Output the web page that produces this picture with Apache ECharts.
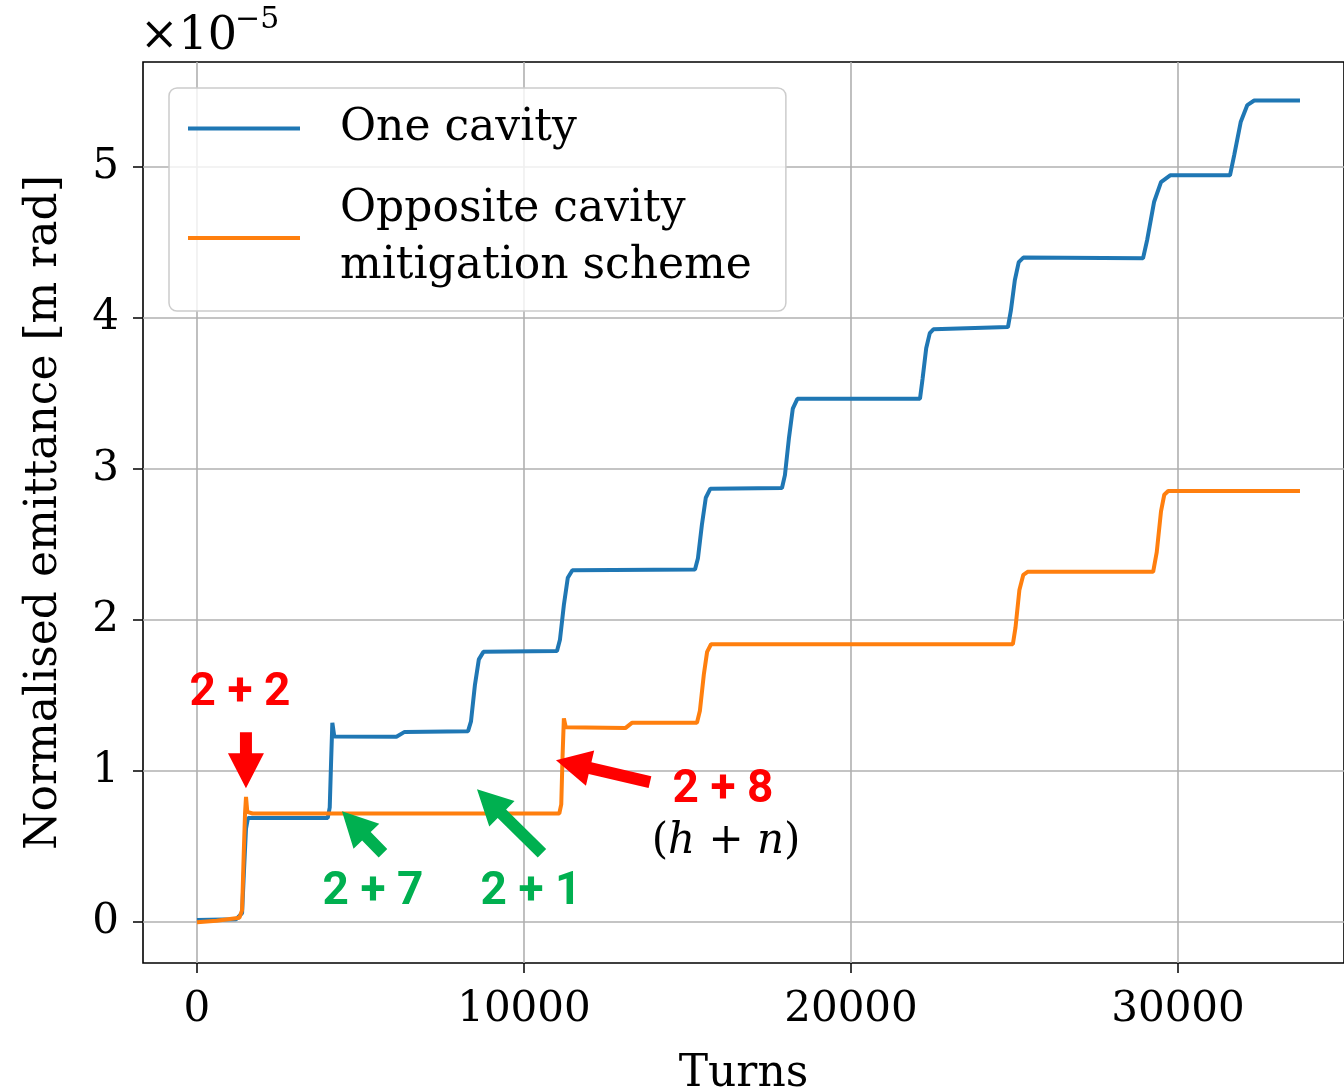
<!DOCTYPE html>
<html>
<head>
<meta charset="utf-8">
<script src="https://cdn.jsdelivr.net/npm/echarts@6/dist/echarts.min.js"></script>
<style>
  html, body { margin: 0; padding: 0; background: #ffffff; }
  #chart { width: 1344px; height: 1092px; }
</style>
</head>
<body>
<div id="chart"></div>
<script>
// Axis ticks
const xTicks = [0, 10000, 20000, 30000];
const yTicks = [0, 1, 2, 3, 4, 5];

// Normalised emittance (units of 1e-5 m rad) versus turn number
const oneCavityTurns = [
  0, 1200, 1380, 1440, 1500, 1560, 4000, 4060, 4100, 4140, 4200, 6100, 6350,
  8290, 8380, 8500, 8620, 8760, 11010, 11100, 11220, 11340, 11480,
  15230, 15320, 15440, 15560, 15700, 17890, 17980, 18100, 18220, 18360,
  22110, 22190, 22300, 22410, 22520, 24800, 24890, 25010, 25130, 25270,
  28930, 29060, 29270, 29480, 29760, 31590, 31720, 31920, 32120, 32330, 33730
];
const oneCavityEmittance = [
  0.015, 0.02, 0.06, 0.35, 0.62, 0.69, 0.69, 0.76, 1.05, 1.32, 1.23, 1.228, 1.26,
  1.265, 1.33, 1.57, 1.74, 1.79, 1.795, 1.87, 2.1, 2.28, 2.33,
  2.335, 2.41, 2.63, 2.81, 2.87, 2.875, 2.96, 3.2, 3.4, 3.465,
  3.465, 3.6, 3.8, 3.9, 3.925, 3.94, 4.05, 4.25, 4.37, 4.4,
  4.395, 4.52, 4.77, 4.9, 4.945, 4.945, 5.08, 5.3, 5.41, 5.44, 5.44
];
const oppositeTurns = [
  0, 600, 1300, 1380, 1430, 1470, 1500, 1540, 1700, 11080, 11140, 11180, 11220, 11280,
  13100, 13300, 15290, 15380, 15500, 15600, 15720, 24950, 25030, 25150, 25270, 25400,
  29240, 29350, 29480, 29580, 29700, 33730
];
const oppositeEmittance = [
  0.0, 0.01, 0.03, 0.08, 0.45, 0.72, 0.83, 0.73, 0.72, 0.72, 0.78, 1.1, 1.35, 1.29,
  1.285, 1.32, 1.32, 1.4, 1.64, 1.79, 1.84, 1.84, 1.95, 2.2, 2.3, 2.32,
  2.32, 2.45, 2.72, 2.83, 2.855, 2.855
];

const seriesNames = ['One cavity', 'Opposite cavity\nmitigation scheme'];

// Harmonic pairs (h + n) pointed out on the curves
const harmonicTexts = ['2 + 2', '2 + 7', '2 + 1', '2 + 8'];

// Label anchors and arrow tail/tip, in axis units [turns, emittance]
const harmonicLayout = [
  { label: [1315, 1.517],  tail: [1498, 1.258],  tip: [1498, 0.887], colour: '#ff0000' },
  { label: [5382, 0.199],  tail: [5688, 0.457],  tip: [4434, 0.735], colour: '#00b050' },
  { label: [10214, 0.199], tail: [10550, 0.457], tip: [8563, 0.881], colour: '#00b050' },
  { label: [16085, 0.874], tail: [13853, 0.927], tip: [10979, 1.073], colour: '#ff0000' }
];
const hnNoteAt = [16180, 0.53];

const serif = 'DejaVu Serif';
const toPairs = (xs, ys) => xs.map((x, i) => [x, ys[i]]);

const chart = echarts.init(document.getElementById('chart'), null, { renderer: 'canvas' });

chart.setOption({
  animation: false,
  backgroundColor: '#ffffff',
  grid: {
    left: 143, top: 62, right: 0, bottom: 129,
    outerBoundsMode: 'none',
    show: true, borderColor: '#000000', borderWidth: 1.6, backgroundColor: 'transparent'
  },
  legend: {
    orient: 'vertical',
    left: 169, top: 88,
    padding: [12, 34, 16, 19],
    itemGap: 24,
    itemWidth: 112, itemHeight: 4,
    icon: 'rect',
    backgroundColor: 'rgba(255,255,255,0.8)',
    borderColor: '#cccccc', borderWidth: 1.5, borderRadius: 8,
    textStyle: {
      fontFamily: serif, fontSize: 44, color: '#000000',
      lineHeight: 57, padding: [0, 0, 0, 35]
    },
    data: seriesNames
  },
  xAxis: {
    type: 'value',
    min: -1650, max: 35076,
    name: 'Turns',
    nameLocation: 'middle', nameGap: 90,
    nameTextStyle: { fontFamily: serif, fontSize: 44, color: '#000000' },
    axisLine: { show: false, onZero: false },
    axisTick: { show: true, customValues: xTicks, length: 10, lineStyle: { color: '#000', width: 1.5 } },
    axisLabel: {
      customValues: xTicks, margin: 26, fontFamily: serif, fontSize: 42, color: '#000000',
      formatter: (v) => String(v)
    },
    splitLine: { show: true, lineStyle: { color: '#b0b0b0', width: 1.6 } }
  },
  yAxis: {
    type: 'value',
    min: -0.27, max: 5.695,
    name: 'Normalised emittance [m rad]',
    nameLocation: 'middle', nameGap: 76,
    nameTextStyle: { fontFamily: serif, fontSize: 44, color: '#000000' },
    axisLine: { show: false, onZero: false },
    axisTick: { show: true, customValues: yTicks, length: 10, lineStyle: { color: '#000', width: 1.5 } },
    axisLabel: { customValues: yTicks, margin: 24, fontFamily: serif, fontSize: 42, color: '#000000' },
    splitLine: { show: true, lineStyle: { color: '#b0b0b0', width: 1.6 } }
  },
  series: [
    {
      name: seriesNames[0], type: 'line', showSymbol: false, symbol: 'none',
      color: '#1f77b4', lineStyle: { width: 4, color: '#1f77b4' },
      data: toPairs(oneCavityTurns, oneCavityEmittance), z: 2
    },
    {
      name: seriesNames[1], type: 'line', showSymbol: false, symbol: 'none',
      color: '#ff7f0e', lineStyle: { width: 4, color: '#ff7f0e' },
      data: toPairs(oppositeTurns, oppositeEmittance), z: 3
    }
  ]
});

// Arrow polygon from tail to tip (pixel space)
function arrowPoints(p0, p1, shaftW, headW, headL) {
  const dx = p1[0] - p0[0], dy = p1[1] - p0[1];
  const len = Math.hypot(dx, dy);
  const ux = dx / len, uy = dy / len;
  const nx = -uy, ny = ux;
  const bx = p1[0] - ux * headL, by = p1[1] - uy * headL;
  const s = shaftW / 2, h = headW / 2;
  return [
    [p0[0] + nx * s, p0[1] + ny * s],
    [bx + nx * s, by + ny * s],
    [bx + nx * h, by + ny * h],
    [p1[0], p1[1]],
    [bx - nx * h, by - ny * h],
    [bx - nx * s, by - ny * s],
    [p0[0] - nx * s, p0[1] - ny * s]
  ];
}

const px = (pt) => chart.convertToPixel({ gridIndex: 0 }, pt);
const graphics = [];

harmonicLayout.forEach((a, i) => {
  graphics.push({
    type: 'polygon', z: 20,
    shape: { points: arrowPoints(px(a.tail), px(a.tip), 12, 36, 35) },
    style: { fill: a.colour }
  });
  const c = px(a.label);
  graphics.push({
    type: 'text', z: 20, x: c[0], y: c[1],
    style: {
      text: harmonicTexts[i], fill: a.colour,
      font: 'bold 46px Roboto', align: 'center', verticalAlign: 'middle'
    }
  });
});

const note = px(hnNoteAt);
graphics.push({
  type: 'text', z: 20, x: note[0], y: note[1],
  style: {
    text: '{p|(}{i|h}{p| + }{i|n}{p|)}',
    align: 'center', verticalAlign: 'middle',
    rich: {
      p: { fontFamily: serif, fontSize: 42, fill: '#000000' },
      i: { fontFamily: serif, fontSize: 42, fontStyle: 'italic', fill: '#000000' }
    }
  }
});

// Axis multiplier above the y axis
graphics.push({
  type: 'text', x: 140, y: 37,
  style: { text: '×10', font: '46px "DejaVu Serif"', fill: '#000000', align: 'left', verticalAlign: 'middle' }
});
graphics.push({
  type: 'text', x: 235, y: 20,
  style: { text: '−5', font: '30px "DejaVu Serif"', fill: '#000000', align: 'left', verticalAlign: 'middle' }
});

chart.setOption({ graphic: graphics });
</script>
</body>
</html>
